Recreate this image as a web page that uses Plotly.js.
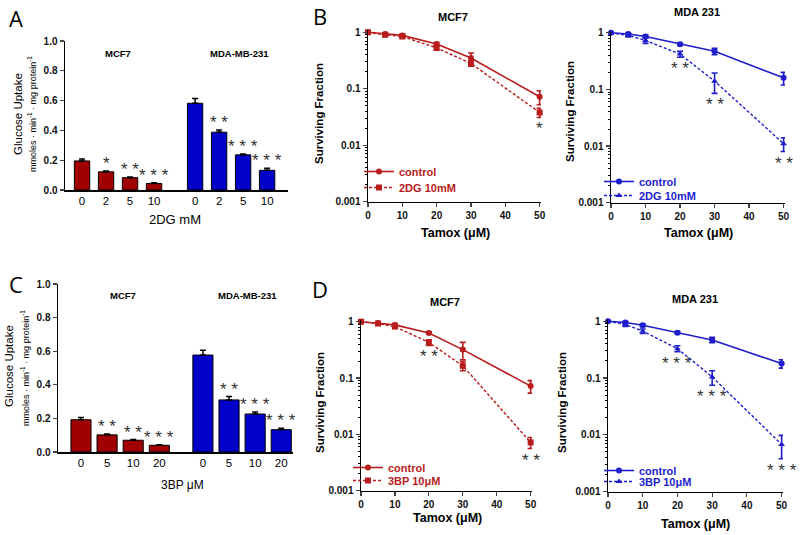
<!DOCTYPE html>
<html><head><meta charset="utf-8">
<script src="https://cdn.plot.ly/plotly-3.0.1.min.js"></script>
<style>html,body{margin:0;padding:0;background:#fff}#chart{width:800px;height:535px}</style>
</head><body><div id="chart"></div>
<script>
// ---------- DATA ----------
const groupNames = ['MCF7', 'MDA-MB-231'];
// Panel A: 2DG glucose uptake
const doses2DG = ['0', '2', '5', '10'];
const mcf7_2DG = [0.195, 0.122, 0.083, 0.044];
const mcf7_2DG_err = [0.013, 0.006, 0.005, 0.004];
const mda_2DG = [0.582, 0.388, 0.236, 0.132];
const mda_2DG_err = [0.032, 0.014, 0.006, 0.014];
const sig_mcf7_2DG = ['', '*', '* *', '* * *'];
const sig_mda_2DG = ['', '* *', '* * *', '* * *'];
// Panel C: 3BP glucose uptake
const doses3BP = ['0', '5', '10', '20'];
const mcf7_3BP = [0.192, 0.102, 0.070, 0.040];
const mcf7_3BP_err = [0.014, 0.005, 0.004, 0.003];
const mda_3BP = [0.577, 0.31, 0.226, 0.133];
const mda_3BP_err = [0.028, 0.02, 0.012, 0.009];
const sig_mcf7_3BP = ['', '* *', '* *', '* * *'];
const sig_mda_3BP = ['', '* *', '* * *', '* * *'];
// Survival (Tamoxifen µM)
const tamox = [0, 5, 10, 20, 30, 50];
// B: MCF7 + 2DG
const bMcf7Ctrl = [1.0, 0.93, 0.88, 0.62, 0.35, 0.072];
const bMcf7CtrlErr = [0.04, 0.05, 0.04, 0.04, 0.08, 0.02];
const bMcf72DG = [1.0, 0.90, 0.84, 0.53, 0.28, 0.038];
const bMcf72DGErr = [0.03, 0.05, 0.05, 0.05, 0.03, 0.007];
const sigBMcf7 = ['', '', '', '', '', '*'];
// B: MDA 231 + 2DG
const bMdaCtrl = [1.0, 0.95, 0.86, 0.63, 0.47, 0.16];
const bMdaCtrlErr = [0.03, 0.04, 0.05, 0.03, 0.06, 0.04];
const bMda2DG = [1.0, 0.90, 0.73, 0.42, 0.14, 0.011];
const bMda2DGErr = [0.03, 0.06, 0.08, 0.05, 0.055, 0.003];
const sigBMda = ['', '', '', '* *', '* *', '* *'];
// D: MCF7 + 3BP
const dMcf7Ctrl = [1.0, 0.95, 0.88, 0.63, 0.32, 0.072];
const dMcf7CtrlErr = [0.03, 0.03, 0.05, 0.03, 0.11, 0.018];
const dMcf73BP = [1.0, 0.93, 0.82, 0.43, 0.165, 0.0072];
const dMcf73BPErr = [0.03, 0.03, 0.05, 0.05, 0.03, 0.0016];
const sigDMcf7 = ['', '', '', '* *', '', '* *'];
// D: MDA 231 + 3BP
const dMdaCtrl = [1.0, 0.95, 0.85, 0.63, 0.47, 0.18];
const dMdaCtrlErr = [0.03, 0.04, 0.05, 0.03, 0.05, 0.03];
const dMda3BP = [1.0, 0.88, 0.67, 0.33, 0.105, 0.0068];
const dMda3BPErr = [0.03, 0.07, 0.06, 0.04, 0.03, 0.003];
const sigDMda = ['', '', '', '* * *', '* * *', '* * *'];
const logTickVals = [0.001, 0.01, 0.1, 1];
const logTickText = ['0.001', '0.01', '0.1', '1'];

// ---------- STYLE ----------
const FONT = 'Liberation Sans, Arial, sans-serif';
const BAR_RED = '#A00000', BAR_BLUE = '#0000C8';
const LINE_RED = '#B81C1C', LINE_BLUE = '#1E1ECC';
const STAR = '#333333';
const W = 800, H = 535;
const px = v => v / W, py = v => 1 - v / H;

// minor ticks 2..9 within each decade shown
const logMinor = [];
[0.001, 0.01, 0.1].forEach(d => { for (let k = 2; k <= 9; k++) logMinor.push(d * k); });

const traces = [];
const annotations = [];

function ann(text, x, y, opts) {
  annotations.push(Object.assign({
    text, x: px(x), y: py(y), xref: 'paper', yref: 'paper',
    showarrow: false, xanchor: 'center', yanchor: 'middle',
    font: {family: FONT, size: 11, color: '#000'}
  }, opts || {}));
}

// ---------- BAR PANELS ----------
function barPanel(xa, ya, doses, mcf, mcfErr, mda, mdaErr, sigM, sigD, offset, width) {
  const xM = doses.map((d, i) => i);
  const xD = doses.map((d, i) => i + offset);
  [[xM, mcf, mcfErr, BAR_RED, sigM], [xD, mda, mdaErr, BAR_BLUE, sigD]].forEach(([xs, ys, es, col, sig]) => {
    traces.push({
      type: 'bar', x: xs, y: ys, width: width, xaxis: xa, yaxis: ya,
      marker: {color: col, line: {color: '#000', width: 1}},
      error_y: {type: 'data', symmetric: false, array: es, arrayminus: es.map(() => 0),
                color: '#000', thickness: 1.5, width: 3},
      showlegend: false, hoverinfo: 'skip'
    });
    sig.forEach((s, i) => {
      if (!s) return;
      annotations.push({text: s, x: xs[i], y: ys[i] + es[i], xref: xa, yref: ya.replace('axis', ''),
        showarrow: false, xanchor: 'center', yanchor: 'bottom', yshift: -4,
        font: {family: FONT, size: 17, color: STAR}});
    });
  });
  return {tickvals: xM.concat(xD), ticktext: doses.concat(doses)};
}

const tA = barPanel('x', 'y', doses2DG, mcf7_2DG, mcf7_2DG_err, mda_2DG, mda_2DG_err, sig_mcf7_2DG, sig_mda_2DG, 4.71, 0.64);
const tC = barPanel('x2', 'y2', doses3BP, mcf7_3BP, mcf7_3BP_err, mda_3BP, mda_3BP_err, sig_mcf7_3BP, sig_mda_3BP, 4.67, 0.77);

// ---------- SURVIVAL PANELS ----------
function survPanel(xa, ya, legs, ctrl, ctrlErr, trt, trtErr, trtName, color, symbol, sig) {
  traces.push({
    type: 'scatter', mode: 'lines+markers', x: tamox, y: ctrl, xaxis: xa, yaxis: ya,
    name: 'control', legend: legs[0], cliponaxis: false,
    line: {color: color, width: 1.6}, marker: {symbol: 'circle', size: 6, color: color},
    error_y: {type: 'data', array: ctrlErr, color: color, thickness: 1.6, width: 3}
  });
  traces.push({
    type: 'scatter', mode: 'lines+markers', x: tamox, y: trt, xaxis: xa, yaxis: ya,
    name: trtName, legend: legs[1], cliponaxis: false,
    line: {color: color, width: 1.4, dash: '3px,2px'}, marker: {symbol: symbol, size: 6, color: color},
    error_y: {type: 'data', array: trtErr, color: color, thickness: 1.6, width: 3}
  });
  sig.forEach((s, i) => {
    if (!s) return;
    annotations.push({text: s, x: tamox[i], y: Math.log10(trt[i] - trtErr[i]), xref: xa, yref: ya.replace('axis', ''),
      showarrow: false, xanchor: 'center', yanchor: 'top', yshift: 0,
      font: {family: FONT, size: 17, color: STAR}});
  });
}
survPanel('x3', 'y3', ['legend', 'legend2'], bMcf7Ctrl, bMcf7CtrlErr, bMcf72DG, bMcf72DGErr, '2DG 10mM', LINE_RED, 'square', sigBMcf7);
survPanel('x4', 'y4', ['legend3', 'legend4'], bMdaCtrl, bMdaCtrlErr, bMda2DG, bMda2DGErr, '2DG 10mM', LINE_BLUE, 'triangle-up', sigBMda);
survPanel('x5', 'y5', ['legend5', 'legend6'], dMcf7Ctrl, dMcf7CtrlErr, dMcf73BP, dMcf73BPErr, '3BP 10\u03BCM', LINE_RED, 'square', sigDMcf7);
survPanel('x6', 'y6', ['legend7', 'legend8'], dMdaCtrl, dMdaCtrlErr, dMda3BP, dMda3BPErr, '3BP 10\u03BCM', LINE_BLUE, 'triangle-up', sigDMda);

// ---------- AXES ----------
const tickFontB = {family: FONT, size: 10, color: '#111', weight: 'bold'};
function barX(dom, range, t, anchor) {
  return {domain: dom, range: range, anchor: anchor, tickvals: t.tickvals, ticktext: t.ticktext,
    showline: true, linecolor: '#000', linewidth: 1.5, ticks: '', ticklen: 0,
    showgrid: false, zeroline: false,
    tickfont: {family: FONT, size: 11.5, color: '#000'}, fixedrange: true};
}
function barY(dom, anchor) {
  return {domain: dom, range: [0, 1], anchor: anchor, dtick: 0.2, tickformat: '.1f',
    showline: true, linecolor: '#000', linewidth: 1.5, ticks: 'outside', ticklen: 4, tickwidth: 1.2,
    showgrid: false, zeroline: false, tickfont: tickFontB, fixedrange: true};
}
function survX(dom, anchor) {
  return {domain: dom, range: [0, 50.4], anchor: anchor, dtick: 10, tick0: 0,
    showline: true, linecolor: '#000', linewidth: 1.5, ticks: 'outside', ticklen: 4, tickwidth: 1.2,
    showgrid: false, zeroline: false, tickfont: tickFontB, fixedrange: true};
}
function survY(dom, anchor) {
  return {domain: dom, type: 'log', range: [-3, 0.04], anchor: anchor,
    tickmode: 'array', tickvals: logTickVals, ticktext: logTickText,
    showline: true, linecolor: '#000', linewidth: 1.5, ticks: 'outside', ticklen: 4, tickwidth: 1.2,
    minor: {tickmode: 'array', tickvals: logMinor, ticks: 'outside', ticklen: 2, tickcolor: '#000', tickwidth: 1, showgrid: false},
    showgrid: false, zeroline: false, tickfont: tickFontB, fixedrange: true};
}

const layout = {
  width: W, height: H, margin: {l: 0, r: 0, t: 0, b: 0},
  paper_bgcolor: '#fff', plot_bgcolor: 'rgba(0,0,0,0)', bargap: 0, hovermode: false,
  xaxis: barX([px(65), px(288)], [-0.71, 8.58], tA, 'y'),
  yaxis: barY([py(190), py(41)], 'x'),
  xaxis2: barX([px(58), px(293)], [-0.88, 8.12], tC, 'y2'),
  yaxis2: barY([py(452), py(284)], 'x2'),
  xaxis3: survX([px(368), px(541)], 'y3'),
  yaxis3: survY([py(201.7), py(30)], 'x3'),
  xaxis4: survX([px(611), px(785)], 'y4'),
  yaxis4: survY([py(202.7), py(30.5)], 'x4'),
  xaxis5: survX([px(361), px(532)], 'y5'),
  yaxis5: survY([py(490.7), py(319.5)], 'x5'),
  xaxis6: survX([px(608), px(783)], 'y6'),
  yaxis6: survY([py(491.7), py(319)], 'x6'),
  annotations: annotations
};
function legendAt(x, y, color) {
  return {x: px(x), y: py(y), xanchor: 'left', yanchor: 'top', bgcolor: 'rgba(0,0,0,0)',
    borderwidth: 0, itemwidth: 30, tracegroupgap: 0,
    font: {family: FONT, size: 11, color: color, weight: 'bold'}};
}
layout.legend = legendAt(359, 157, LINE_RED);
layout.legend2 = legendAt(359, 173, LINE_RED);
layout.legend3 = legendAt(599, 167, LINE_BLUE);
layout.legend4 = legendAt(599, 181, LINE_BLUE);
layout.legend5 = legendAt(348, 453, LINE_RED);
layout.legend6 = legendAt(348, 466, LINE_RED);
layout.legend7 = legendAt(599, 456, LINE_BLUE);
layout.legend8 = legendAt(599, 467, LINE_BLUE);

// ---------- TEXT ----------
const bold = s => ({family: FONT, size: s, color: '#000', weight: 'bold'});
// panel letters
ann('A', 16, 18, {font: {family: 'Open Sans', size: 22, color: '#000'}});
ann('B', 320, 16, {font: {family: 'Open Sans', size: 22, color: '#000'}});
ann('C', 16, 284, {font: {family: 'Open Sans', size: 22, color: '#000'}});
ann('D', 320, 289, {font: {family: 'Open Sans', size: 22, color: '#000'}});
// bar panels
ann(groupNames[0], 118, 54, {font: bold(9.5)});
ann(groupNames[1], 239, 54, {font: bold(9.5)});
ann(groupNames[0], 123, 295, {font: bold(9.5)});
ann(groupNames[1], 247, 295, {font: bold(9.5)});
ann('2DG mM', 175, 219, {font: {family: FONT, size: 13, color: '#000'}});
ann('3BP \u03BCM', 182, 485, {font: {family: FONT, size: 12, color: '#000'}});
const gu1 = 'Glucose Uptake';
const gu2 = 'mmoles \u00B7 min<sup>-1</sup> \u00B7 mg protein<sup>-1</sup>';
ann(gu1, 18, 114, {textangle: -90, font: {family: FONT, size: 11.5, color: '#000'}});
ann(gu2, 32, 114, {textangle: -90, font: {family: FONT, size: 9, color: '#000'}});
ann(gu1, 9, 366, {textangle: -90, font: {family: FONT, size: 11.5, color: '#000'}});
ann(gu2, 25, 368, {textangle: -90, font: {family: FONT, size: 9, color: '#000'}});
// survival panels
ann('MCF7', 453, 17, {font: bold(11)});
ann('MDA 231', 697, 12, {font: bold(11)});
ann('MCF7', 445, 302, {font: bold(11)});
ann('MDA 231', 695, 299, {font: bold(11)});
const tamTitle = 'Tamox (\u03BCM)';
ann(tamTitle, 455, 233, {font: bold(12.5)});
ann(tamTitle, 698, 233, {font: bold(12.5)});
ann(tamTitle, 447, 518, {font: bold(12.5)});
ann(tamTitle, 695, 524, {font: bold(12.5)});
const sfTitle = 'Surviving Fraction';
ann(sfTitle, 319, 114, {textangle: -90, font: bold(11.5)});
ann(sfTitle, 570, 112, {textangle: -90, font: bold(11.5)});
ann(sfTitle, 320, 403, {textangle: -90, font: bold(11.5)});
ann(sfTitle, 562, 403, {textangle: -90, font: bold(11.5)});

Plotly.newPlot('chart', traces, layout, {displayModeBar: false, staticPlot: true});
</script></body></html>
